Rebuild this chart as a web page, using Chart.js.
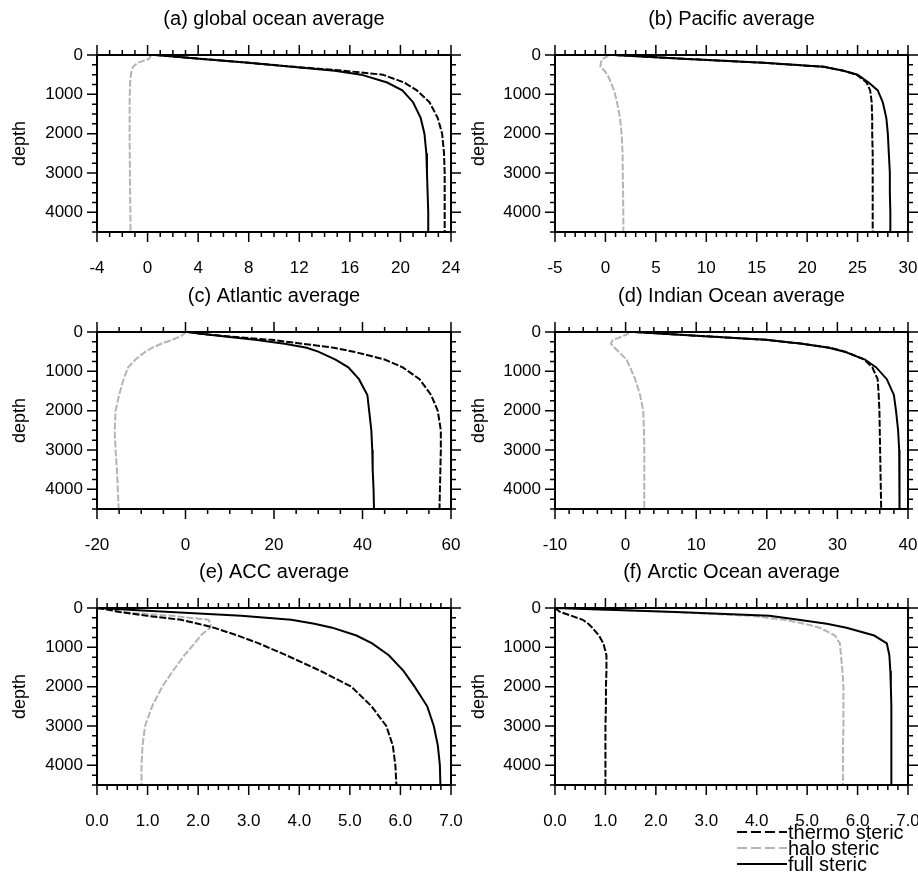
<!DOCTYPE html>
<html>
<head>
<meta charset="utf-8">
<script src="https://cdn.jsdelivr.net/npm/chart.js@4.4.1/dist/chart.umd.min.js"></script>
<style>
  body { margin: 0; background: #fff; }
  #wrap { position: relative; width: 918px; height: 880px; overflow: hidden; font-family: "Liberation Sans", Arial, sans-serif; }
  #wrap canvas { position: absolute; }
  #legend { position: absolute; left: 737px; top: 824px; font-size: 20px; color: #000; }
  #legend div { display: flex; align-items: center; height: 16px; }
  #legend svg { margin-right: 1px; }
</style>
</head>
<body>
<div id="wrap">
  <canvas id="pa" width="480" height="277" style="left:0;top:0"></canvas>
  <canvas id="pb" width="459" height="277" style="left:459px;top:0"></canvas>
  <canvas id="pc" width="480" height="277" style="left:0;top:277px"></canvas>
  <canvas id="pd" width="459" height="277" style="left:459px;top:277px"></canvas>
  <canvas id="pe" width="480" height="277" style="left:0;top:553px"></canvas>
  <canvas id="pf" width="459" height="277" style="left:459px;top:553px"></canvas>
  <div id="legend">
    <div><svg width="50" height="16"><line x1="0" y1="8" x2="50" y2="8" stroke="#000" stroke-width="2" stroke-dasharray="10 4"/></svg>thermo steric</div>
    <div><svg width="50" height="16"><line x1="0" y1="8" x2="50" y2="8" stroke="#b4b4b4" stroke-width="2" stroke-dasharray="10 4"/></svg>halo steric</div>
    <div><svg width="50" height="16"><line x1="0" y1="8" x2="50" y2="8" stroke="#000" stroke-width="2"/></svg>full steric</div>
  </div>
</div>
<script>
const font = '"Liberation Sans", Arial, sans-serif'
Chart.defaults.color = '#000'
Chart.defaults.font.family = font

// depth levels (m) shared by every profile
const depth = [0, 50, 100, 200, 300, 400, 500, 700, 900, 1200, 1600, 2000, 2500, 3000, 3500, 4000, 4500]
const depthTicks = [0, 1000, 2000, 3000, 4000]

// (a) global ocean
const thermoA = [0.6, 2.5, 4.3, 8.0, 11.6, 15.5, 18.6, 20.3, 21.3, 22.3, 22.95, 23.3, 23.45, 23.5, 23.5, 23.5, 23.5]
const haloA = [0.3, 0.2, 0.1, -0.8, -1.15, -1.25, -1.32, -1.38, -1.4, -1.42, -1.42, -1.42, -1.41, -1.4, -1.38, -1.36, -1.35]
const fullA = [0.6, 2.5, 4.3, 8.0, 11.4, 14.8, 16.9, 18.95, 20.15, 21.0, 21.6, 21.9, 22.05, 22.1, 22.15, 22.2, 22.2]
const xTicksA = [-4, 0, 4, 8, 12, 16, 20, 24]

// (b) Pacific
const thermoB = [0.9, 4.5, 8.1, 15.7, 21.7, 23.6, 24.9, 25.9, 26.25, 26.4, 26.45, 26.45, 26.5, 26.5, 26.5, 26.5, 26.5]
const haloB = [0.3, 0.1, -0.3, -0.45, -0.5, -0.1, 0.2, 0.55, 0.85, 1.15, 1.45, 1.6, 1.7, 1.72, 1.75, 1.77, 1.78]
const fullB = [0.9, 4.5, 8.1, 15.7, 21.6, 23.6, 25.0, 26.1, 27.0, 27.5, 27.85, 28.0, 28.1, 28.2, 28.2, 28.25, 28.25]
const xTicksB = [-5, 0, 5, 10, 15, 20, 25, 30]

// (c) Atlantic
const thermoC = [0.5, 4.0, 8.5, 19.4, 26.5, 33.5, 38.0, 45.0, 49.1, 52.9, 55.5, 57.0, 57.7, 57.7, 57.6, 57.5, 57.4]
const haloC = [0.2, -0.4, -1.0, -3.0, -5.5, -7.5, -9.05, -11.3, -12.95, -14.0, -15.0, -15.8, -16.0, -15.8, -15.5, -15.3, -15.1]
const fullC = [0.5, 4.0, 7.9, 15.7, 22.4, 27.4, 30.0, 33.9, 36.8, 39.2, 41.1, 41.5, 42.0, 42.2, 42.3, 42.5, 42.6]
const xTicksC = [-20, 0, 20, 40, 60]

// (d) Indian Ocean
const thermoD = [1.3, 5.9, 10.6, 19.9, 25.1, 28.9, 31.1, 33.8, 34.95, 35.7, 35.85, 35.95, 36.0, 36.05, 36.1, 36.15, 36.2]
const haloD = [0.4, 0.3, -0.3, -1.8, -2.1, -1.55, -1.0, 0.15, 0.63, 1.36, 2.05, 2.5, 2.6, 2.65, 2.65, 2.65, 2.65]
const fullD = [1.3, 5.9, 10.6, 19.9, 25.0, 28.8, 31.0, 33.9, 35.5, 37.0, 38.0, 38.3, 38.6, 38.75, 38.8, 38.8, 38.8]
const xTicksD = [-10, 0, 10, 20, 30, 40]

// (e) ACC
const thermoE = [0, 0.25, 0.45, 1.0, 1.66, 2.0, 2.31, 2.78, 3.2, 3.74, 4.42, 5.03, 5.43, 5.72, 5.85, 5.9, 5.92]
const haloE = [0, 0.25, 0.45, 1.5, 2.2, 2.25, 2.24, 2.05, 1.93, 1.73, 1.5, 1.29, 1.09, 0.95, 0.9, 0.88, 0.88]
const fullE = [0, 0.72, 1.45, 2.85, 3.84, 4.3, 4.65, 5.13, 5.44, 5.77, 6.06, 6.28, 6.53, 6.66, 6.74, 6.78, 6.79]
const xTicksE = [0, 1, 2, 3, 4, 5, 6, 7]

// (f) Arctic Ocean
const thermoF = [0, 0.05, 0.1, 0.33, 0.55, 0.66, 0.74, 0.87, 0.96, 1.02, 1.02, 1.01, 1.01, 1.0, 1.0, 1.0, 1.0]
const haloF = [0, 1.2, 2.3, 3.9, 4.55, 4.95, 5.25, 5.55, 5.65, 5.67, 5.7, 5.72, 5.72, 5.72, 5.71, 5.71, 5.71]
const fullF = [0, 1.2, 2.4, 4.25, 4.83, 5.39, 5.78, 6.33, 6.58, 6.63, 6.65, 6.66, 6.67, 6.67, 6.67, 6.67, 6.67]
const xTicksF = [0, 1, 2, 3, 4, 5, 6, 7]

const haloColor = '#b4b4b4'

const panels = [
  { id: 'pa', title: '(a) global ocean average', thermo: thermoA, halo: haloA, full: fullA, xt: xTicksA, minor: 1, dec: 0, right: false },
  { id: 'pb', title: '(b) Pacific average', thermo: thermoB, halo: haloB, full: fullB, xt: xTicksB, minor: 1, dec: 0, right: true },
  { id: 'pc', title: '(c) Atlantic average', thermo: thermoC, halo: haloC, full: fullC, xt: xTicksC, minor: 5, dec: 0, right: false },
  { id: 'pd', title: '(d) Indian Ocean average', thermo: thermoD, halo: haloD, full: fullD, xt: xTicksD, minor: 2, dec: 0, right: true },
  { id: 'pe', title: '(e) ACC average', thermo: thermoE, halo: haloE, full: fullE, xt: xTicksE, minor: 0.2, dec: 1, right: false },
  { id: 'pf', title: '(f) Arctic Ocean average', thermo: thermoF, halo: haloF, full: fullF, xt: xTicksF, minor: 0.2, dec: 1, right: true }
]

// box round the plot plus outward major/minor ticks on all four sides
const frameTicks = {
  id: 'frameTicks',
  afterDatasetsDraw(chart, args, opts) {
    const { ctx, chartArea: a, scales: { x, y } } = chart
    const isMajor = (s, v) => s.ticks.some(t => Math.abs(t.value - v) < 1e-6)
    ctx.save()
    ctx.strokeStyle = '#000'
    ctx.lineWidth = 1.5
    ctx.beginPath()
    const nx = Math.round((x.max - x.min) / opts.xMinor)
    for (let i = 0; i <= nx; i++) {
      const v = x.min + i * opts.xMinor
      const len = isMajor(x, v) ? 10 : 5
      const px = x.getPixelForValue(v)
      ctx.moveTo(px, a.bottom); ctx.lineTo(px, a.bottom + len)
      ctx.moveTo(px, a.top); ctx.lineTo(px, a.top - len)
    }
    const ny = Math.round((y.max - y.min) / opts.yMinor)
    for (let i = 0; i <= ny; i++) {
      const v = y.min + i * opts.yMinor
      const len = isMajor(y, v) ? 10 : 5
      const py = y.getPixelForValue(v)
      ctx.moveTo(a.left, py); ctx.lineTo(a.left - len, py)
      ctx.moveTo(a.right, py); ctx.lineTo(a.right + len, py)
    }
    ctx.stroke()
    ctx.lineWidth = 2
    ctx.strokeRect(a.left, a.top, a.right - a.left, a.bottom - a.top)
    ctx.restore()
  }
}

const pts = vals => vals.map((v, i) => ({ x: v, y: depth[i] }))

panels.forEach(p => {
  new Chart(document.getElementById(p.id), {
    type: 'line',
    data: {
      datasets: [
        { label: 'thermo steric', data: pts(p.thermo), borderColor: '#000', borderDash: [7, 2], order: 1 },
        { label: 'halo steric', data: pts(p.halo), borderColor: haloColor, borderDash: [7, 2], order: 2 },
        { label: 'full steric', data: pts(p.full), borderColor: '#000', order: 0 }
      ]
    },
    options: {
      responsive: false,
      animation: false,
      events: [],
      elements: { point: { radius: 0 }, line: { borderWidth: 2, tension: 0, fill: false } },
      layout: { padding: { left: 0, right: p.right ? 10 : 29, top: 0, bottom: 0 } },
      plugins: {
        legend: { display: false },
        tooltip: { enabled: false },
        title: {
          display: true, text: p.title, fullSize: false, color: '#000',
          font: { size: 20, weight: 'normal' }, padding: { top: 7, bottom: 24 }
        },
        frameTicks: { xMinor: p.minor, yMinor: 250 }
      },
      scales: {
        x: {
          type: 'linear',
          min: p.xt[0], max: p.xt[p.xt.length - 1],
          grid: { display: false, drawTicks: false },
          border: { display: false },
          afterBuildTicks: s => { s.ticks = p.xt.map(v => ({ value: v })) },
          afterFit: s => { s.height = 45; s.paddingLeft = 0; s.paddingRight = 0 },
          ticks: {
            font: { size: 17 }, padding: 26, maxRotation: 0, autoSkip: false,
            callback: v => Number(v).toFixed(p.dec)
          }
        },
        y: {
          type: 'linear',
          reverse: true,
          min: 0, max: 4500,
          grid: { display: false, drawTicks: false },
          border: { display: false },
          afterBuildTicks: s => { s.ticks = depthTicks.map(v => ({ value: v })) },
          afterFit: s => { s.width = p.right ? 96 : 97; s.paddingTop = 0; s.paddingBottom = 0 },
          ticks: { font: { size: 17 }, padding: 14, callback: v => String(v) },
          title: { display: true, text: 'depth', font: { size: 18 }, padding: { top: 9, bottom: 0 } }
        }
      }
    },
    plugins: [frameTicks]
  })
})
</script>
</body>
</html>
